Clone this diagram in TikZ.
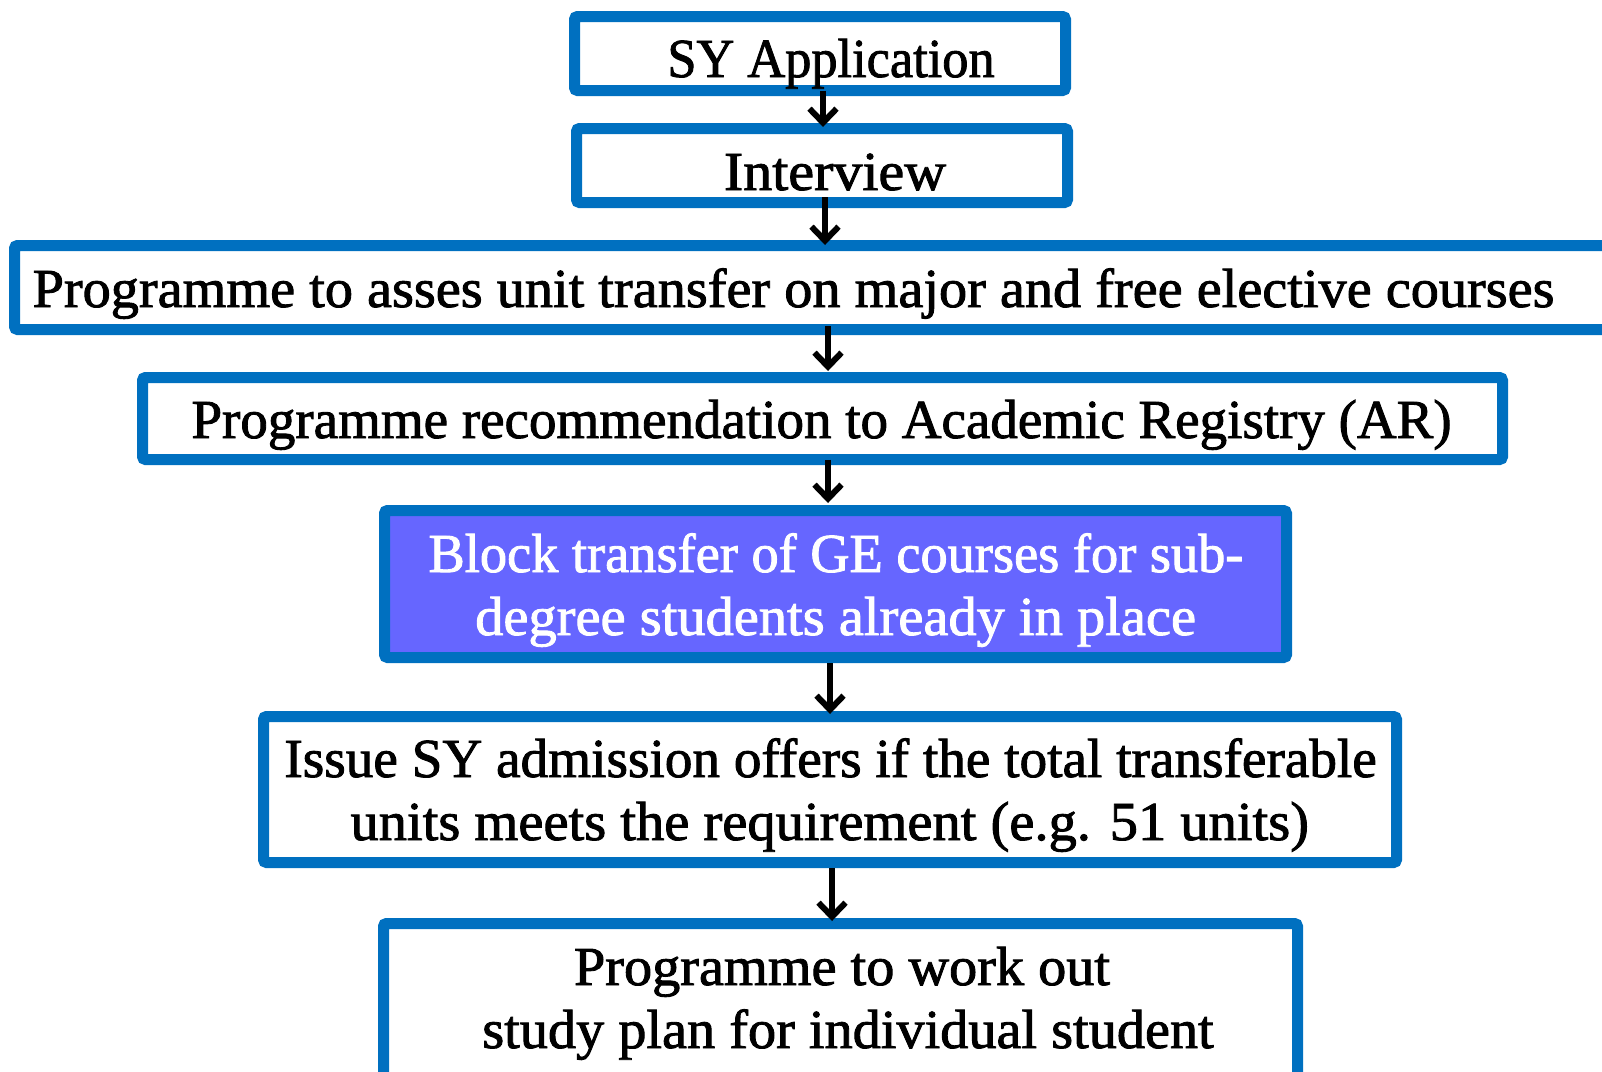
\documentclass[tikz,border=0pt]{standalone}
\usepackage{graphicx}
\usepackage{fontspec}
\newfontfamily\diafont{Liberation Serif}[FakeBold=1.6]
\usetikzlibrary{arrows.meta}
\definecolor{bordblue}{HTML}{0070C0}
\definecolor{boxpurple}{HTML}{6666FF}
\pgfdeclareradialshading{bgshade}{\pgfpoint{0bp}{0bp}}{color(0bp)=(white); color(30bp)=(white); color(46bp)=(black!8); color(50bp)=(black!9)}
\newcommand{\sx}[2]{\scalebox{#1}[1]{#2}}
\begin{document}
\begin{tikzpicture}[x=1pt,y=-1pt,
  flowbox/.style={draw=bordblue, line width=11pt, rounded corners=3pt, fill=white,
    inner sep=0pt, outer sep=0pt},
  hilite/.style={flowbox, fill=boxpurple},
  txt/.style={anchor=base, inner sep=0pt, font=\diafont\fontsize{55pt}{63pt}\selectfont},
  wtxt/.style={txt, text=white},
  arr/.style={draw=black, line width=6pt, -{Straight Barb[length=14pt,width=27pt]}}
]
\useasboundingbox (0,0) rectangle (1602,1071);
\clip (0,0) rectangle (1602,1071);
\shade[shading=bgshade] (-400,-600) rectangle (2000,1500);

% boxes
\node[flowbox, minimum width=491pt, minimum height=74pt] (b1) at (820,53.5) {};
\node[flowbox, minimum width=491pt, minimum height=74pt] (b2) at (822,165.5) {};
\node[flowbox, minimum width=1635.5pt, minimum height=84pt] (b3) at (832.25,287.5) {};
\node[flowbox, minimum width=1360pt, minimum height=82pt] (b4) at (822.5,418.5) {};
\node[hilite, minimum width=902pt, minimum height=147pt] (b5) at (835.5,584) {};
\node[flowbox, minimum width=1133pt, minimum height=146pt] (b6) at (830,789.5) {};
\node[flowbox, minimum width=914pt, minimum height=176.5pt] (b7) at (840.5,1011.75) {};

% texts
\node[txt] (t1) at (831,77) {\sx{0.952}{SY Application}};
\node[txt] (t2) at (835,190) {\sx{1.054}{Interview}};
\node[txt] (t3) at (793.5,307) {\sx{1.023}{Programme to asses unit transfer on major and free elective courses}};
\node[txt] (t4) at (821.5,438) {Programme recommendation to Academic Registry (AR)};
\node[wtxt] (t5a) at (836,572) {\sx{0.988}{Block transfer of GE courses for sub-}};
\node[wtxt] (t5b) at (835.6,635) {\sx{1.026}{degree students already in place}};
\node[txt] (t6a) at (830.6,777) {\sx{1.004}{Issue SY admission offers if the total transferable}};
\node[txt] (t6b) at (829.7,840) {\sx{1.027}{units meets the requirement (e.g. 51 units)}};
\node[txt] (t7a) at (842,985) {\sx{1.023}{Programme to work out}};
\node[txt] (t7b) at (848,1048) {\sx{1.023}{study plan for individual student}};

% arrows
\draw[arr, shorten >=1.5pt] ([xshift=3pt]b1.south) -- ([xshift=3pt]b1.south |- b2.north);
\draw[arr, shorten <=-5.5pt, shorten >=0.5pt] ([xshift=3pt]b2.south) -- ([xshift=3pt]b2.south |- b3.north);
\draw[arr, shorten <=-3.5pt, shorten >=6.5pt] ([xshift=-4.25pt]b3.south) -- ([xshift=-4.25pt]b3.south |- b4.north);
\draw[arr, shorten >=7.5pt] ([xshift=5.5pt]b4.south) -- ([xshift=5.5pt]b4.south |- b5.north);
\draw[arr, shorten <=5.5pt, shorten >=2.5pt] ([xshift=-5.5pt]b5.south) -- ([xshift=-5.5pt]b5.south |- b6.north);
\draw[arr, shorten <=5.5pt, shorten >=2.5pt] ([xshift=2pt]b6.south) -- ([xshift=2pt]b6.south |- b7.north);
\end{tikzpicture}
\end{document}
